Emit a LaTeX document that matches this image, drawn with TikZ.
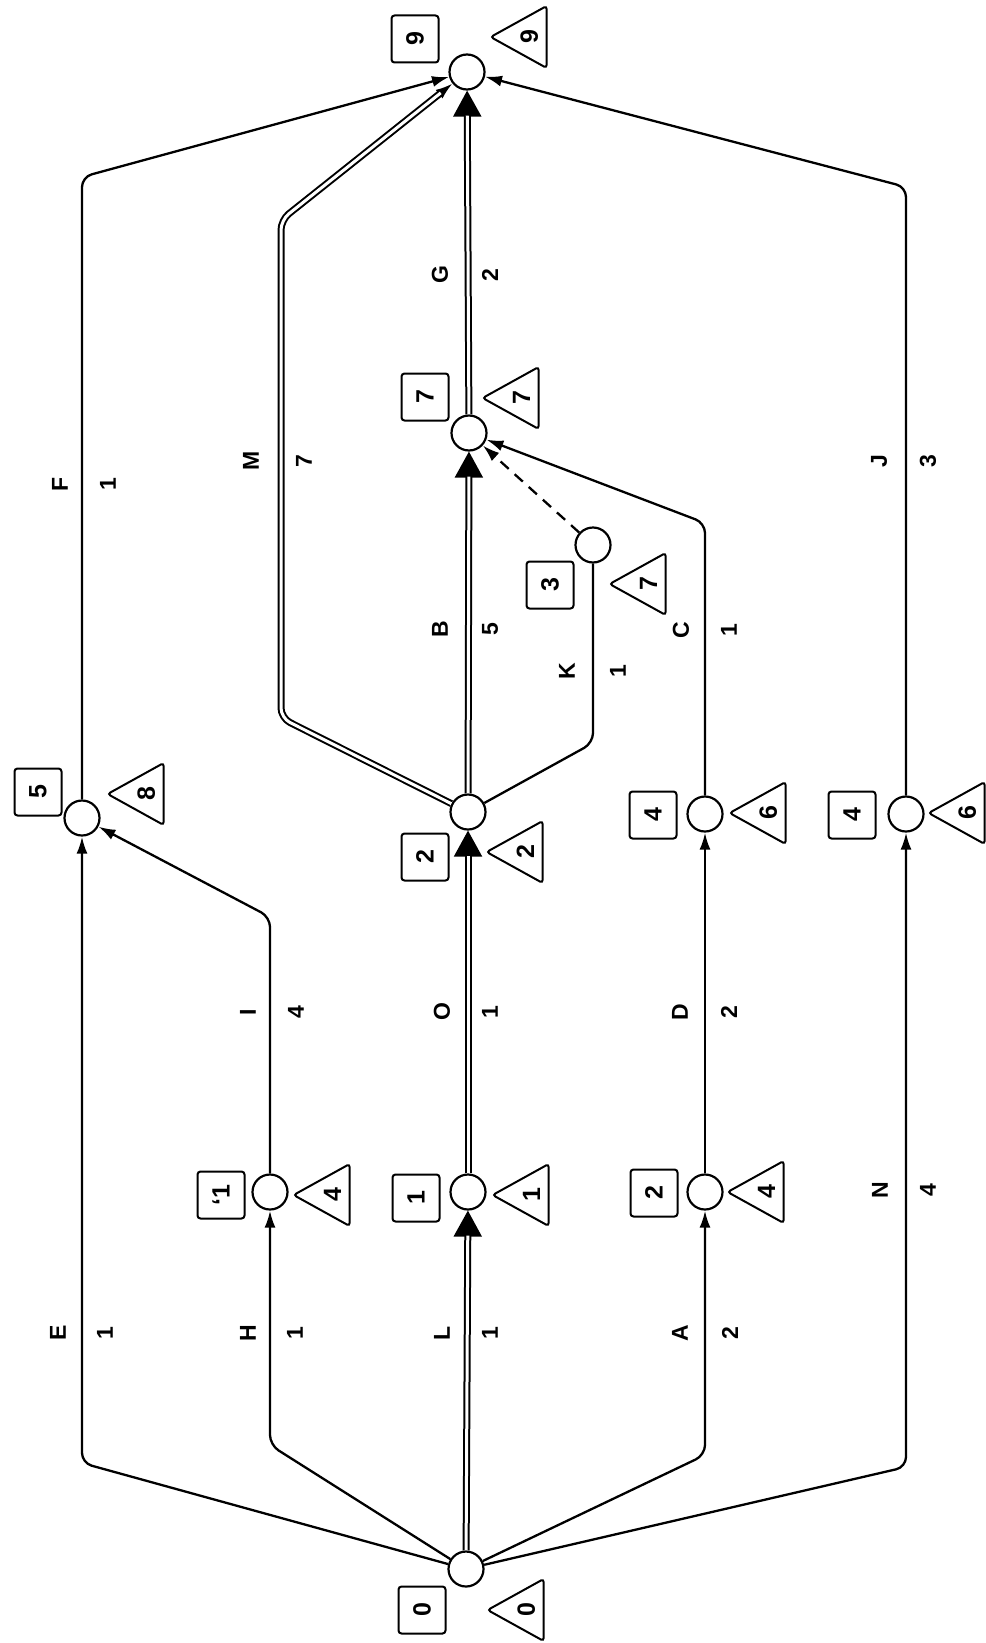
\documentclass[tikz,border=0pt]{standalone}
\usepackage{fontspec}
\setmainfont{Liberation Sans}
\usetikzlibrary{arrows.meta,shapes.geometric}
\tikzset{
  event/.style={circle,draw,line width=2.2pt,minimum size=35pt,inner sep=0pt,fill=white},
  early/.style={draw,line width=2pt,rounded corners=3pt,minimum size=47pt,inner sep=0pt,
    font=\fontsize{25}{28}\selectfont\bfseries},
  late/.style={isosceles triangle,isosceles triangle stretches,shape border rotate=180,
    draw,line width=2pt,rounded corners=3pt,minimum width=62pt,minimum height=56pt,inner sep=0pt,
    font=\fontsize{25}{28}\selectfont\bfseries},
  act/.style={line width=2.3pt,-{Latex[length=17pt,width=11pt]}},
  plain/.style={line width=2.3pt},
  crit/.style={double,double distance=3pt,line width=2pt},
  crittip/.style={line width=2pt,-{Triangle[length=26pt,width=28pt]}},
  tag/.style={rotate=90,inner sep=1pt}
}
\begin{document}
\begin{tikzpicture}[x=1pt,y=-1pt,font=\fontsize{23}{26}\selectfont\bfseries]
  \useasboundingbox (0,0) rectangle (985,1643);
  % events
  \node[event] (n0) at (466,1569) {};
  \node[event] (n1) at (468,1192) {};
  \node[event] (nH) at (270,1192) {};
  \node[event] (nA) at (705,1192) {};
  \node[event] (n5) at (82,818) {};
  \node[event] (nB) at (468,812) {};
  \node[event] (nD) at (705,814) {};
  \node[event] (nN) at (906,814) {};
  \node[event] (n3) at (593,545) {};
  \node[event] (n7) at (469,433) {};
  \node[event] (n9) at (467,72) {};
  % early times (boxes) and late times (triangles)
  \node[early] (e0) at (422,1610) {\rotatebox{90}{0}};
  \node[late,anchor=apex] (l0) at (485,1610) {\rotatebox{90}{0}};
  \node[early] (e1) at (416,1198) {\rotatebox{90}{1}};
  \node[late,anchor=apex] (l1) at (490,1195) {\rotatebox{90}{1}};
  \node[early] (eH) at (221,1195) {\rotatebox{90}{`1}};
  \node[late,anchor=apex] (lH) at (291,1195) {\rotatebox{90}{4}};
  \node[early] (eA) at (654,1193) {\rotatebox{90}{2}};
  \node[late,anchor=apex] (lA) at (725,1192) {\rotatebox{90}{4}};
  \node[early] (e5) at (38,792) {\rotatebox{90}{5}};
  \node[late,anchor=apex] (l5) at (105,794) {\rotatebox{90}{8}};
  \node[early] (eB) at (425,857) {\rotatebox{90}{2}};
  \node[late,anchor=apex] (lB) at (484,852) {\rotatebox{90}{2}};
  \node[early] (eD) at (653,815) {\rotatebox{90}{4}};
  \node[late,anchor=apex] (lD) at (727,813) {\rotatebox{90}{6}};
  \node[early] (eN) at (852,815) {\rotatebox{90}{4}};
  \node[late,anchor=apex] (lN) at (926,813) {\rotatebox{90}{6}};
  \node[early] (e3) at (550,585) {\rotatebox{90}{3}};
  \node[late,anchor=apex] (l3) at (607,584) {\rotatebox{90}{7}};
  \node[early] (e7) at (425,397) {\rotatebox{90}{7}};
  \node[late,anchor=apex] (l7) at (480,398) {\rotatebox{90}{7}};
  \node[early] (e9) at (415,39) {\rotatebox{90}{9}};
  \node[late,anchor=apex] (l9) at (488,37) {\rotatebox{90}{9}};
  % corners
  \coordinate (cE) at (82,1463);
  \coordinate (cH) at (270,1445);
  \coordinate (cA) at (705,1455);
  \coordinate (cN) at (906,1467);
  \coordinate (cI) at (270,917);
  \coordinate (cF) at (82,177);
  \coordinate (cJ) at (906,187);
  \coordinate (cC) at (705,523);
  \coordinate (cK) at (593,743);
  \coordinate (cM1) at (281,718);
  \coordinate (cM2) at (281,220);
  % activities
  \draw[act,rounded corners=10pt] (n0) -- (cE) -- (n5);
  \draw[act,rounded corners=10pt] (n0) -- (cH) -- (nH);
  \draw[act,rounded corners=10pt] (n0) -- (cA) -- (nA);
  \draw[act,rounded corners=10pt] (n0) -- (cN) -- (nN);
  \draw[act,rounded corners=10pt] (nH) -- (cI) -- (n5);
  \draw[act,rounded corners=10pt] (n5) -- (cF) -- (n9);
  \draw[act,rounded corners=10pt] (nN) -- (cJ) -- (n9);
  \draw[act,rounded corners=10pt] (nD) -- (cC) -- (n7);
  \draw[plain,rounded corners=10pt] (nB) -- (cK) -- (n3);
  \draw[act] (nA) -- (nD);
  \draw[act,dashed,dash pattern=on 11pt off 8pt] (n3) -- (n7);
  % critical path
  \draw[crittip] (n0) -- (n1);
  \draw[crit,shorten >=25pt] (n0) -- (n1);
  \draw[crittip] (n1) -- (nB);
  \draw[crit,shorten >=25pt] (n1) -- (nB);
  \draw[crittip] (nB) -- (n7);
  \draw[crit,shorten >=25pt] (nB) -- (n7);
  \draw[crittip] (n7) -- (n9);
  \draw[crit,shorten >=25pt] (n7) -- (n9);
  \draw[act,rounded corners=10pt] (nB) -- (cM1) -- (cM2) -- (n9);
  \draw[crit,rounded corners=10pt,shorten >=15pt] (nB) -- (cM1) -- (cM2) -- (n9);
  % names and durations
  \node[tag] (tE) at (58,1333) {E};   \node[tag] (dE) at (105,1333) {1};
  \node[tag] (tH) at (248,1333) {H};  \node[tag] (dH) at (295,1333) {1};
  \node[tag] (tL) at (442,1333) {L};  \node[tag] (dL) at (490,1333) {1};
  \node[tag] (tA) at (680,1333) {A};  \node[tag] (dA) at (730,1333) {2};
  \node[tag] (tN) at (880,1190) {N};  \node[tag] (dN) at (928,1190) {4};
  \node[tag] (tI) at (248,1012) {I};  \node[tag] (dI) at (296,1012) {4};
  \node[tag] (tO) at (442,1012) {O};  \node[tag] (dO) at (490,1012) {1};
  \node[tag] (tD) at (680,1012) {D};  \node[tag] (dD) at (729,1012) {2};
  \node[tag] (tB) at (440,629) {B};   \node[tag] (dB) at (490,629) {5};
  \node[tag] (tK) at (567,671) {K};   \node[tag] (dK) at (618,671) {1};
  \node[tag] (tC) at (681,630) {C};   \node[tag] (dC) at (729,630) {1};
  \node[tag] (tM) at (251,461) {M};   \node[tag] (dM) at (304,461) {7};
  \node[tag] (tF) at (60,484) {F};    \node[tag] (dF) at (108,484) {1};
  \node[tag] (tJ) at (879,461) {J};   \node[tag] (dJ) at (928,461) {3};
  \node[tag] (tG) at (440,275) {G};   \node[tag] (dG) at (490,275) {2};
\end{tikzpicture}
\end{document}
